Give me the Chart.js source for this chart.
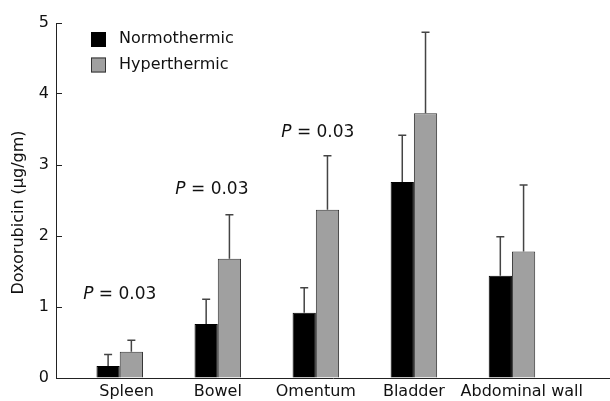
<!DOCTYPE html>
<html lang="en">
<head>
    <meta charset="UTF-8">
    <title>Doxorubicin</title>
    <script src="https://cdn.jsdelivr.net/npm/chart.js@4.4.0/dist/chart.umd.min.js"></script>
    <style>
        body { margin: 0; background: #fff; }
    </style>
</head>
<body>

<canvas id="dox-chart" width="610" height="401"></canvas>

<script>

    const organs = ['Spleen', 'Bowel', 'Omentum', 'Bladder', 'Abdominal wall'];
    const normothermic = [0.17, 0.76, 0.92, 2.76, 1.44];
    const normothermicSD = [0.16, 0.35, 0.35, 0.66, 0.55];
    const hyperthermic = [0.37, 1.68, 2.37, 3.73, 1.78];
    const hyperthermicSD = [0.16, 0.62, 0.76, 1.14, 0.94];
    const yTicks = [0, 1, 2, 3, 4, 5];
    // p-value notes: organ index and height (baseline) in axis units
    const pOrgans = [0, 1, 2];
    const pHeights = [1.11, 2.59, 3.40];
    const pValue = '0.03';

    const font = 'DejaVu Sans';
    const labelShift = [0.07, 0, 0, 0, 0.1];
    const pShift = [0, -0.06, 0.02];

    const errorBars = {
        id: 'errorBars',
        afterDatasetsDraw(chart) {
            const ctx = chart.ctx;
            const y = chart.scales.y;
            const sds = [normothermicSD, hyperthermicSD];
            ctx.save();
            ctx.strokeStyle = '#444';
            ctx.lineWidth = 1.5;
            chart.data.datasets.forEach((ds, di) => {
                chart.getDatasetMeta(di).data.forEach((bar, i) => {
                    const top = y.getPixelForValue(ds.data[i].y + sds[di][i]);
                    ctx.beginPath();
                    ctx.moveTo(bar.x, bar.y);
                    ctx.lineTo(bar.x, top);
                    ctx.moveTo(bar.x - 4, top);
                    ctx.lineTo(bar.x + 4, top);
                    ctx.stroke();
                });
            });
            ctx.restore();
        }
    };

    const extras = {
        id: 'extras',
        afterDraw(chart) {
            const ctx = chart.ctx;
            const area = chart.chartArea;
            const x = chart.scales.x, y = chart.scales.y;
            ctx.save();
            ctx.fillStyle = '#111';

            // y axis title
            ctx.save();
            ctx.translate(19, (area.top + area.bottom) / 2 + 12);
            ctx.rotate(-Math.PI / 2);
            ctx.font = '16px "' + font + '"';
            ctx.textAlign = 'center';
            ctx.textBaseline = 'middle';
            ctx.fillText('Doxorubicin (\u03bcg/gm)', 0, 0);
            ctx.restore();

            // legend
            ctx.font = '16px "' + font + '"';
            ctx.textBaseline = 'middle';
            ctx.textAlign = 'left';
            chart.data.datasets.forEach((ds, i) => {
                const bx = area.left + 35, by = area.top + 9 + i * 25.5;
                ctx.fillStyle = ds.backgroundColor;
                ctx.fillRect(bx, by, 15, 15);
                ctx.strokeStyle = ds.borderColor;
                ctx.lineWidth = 1;
                ctx.strokeRect(bx + 0.5, by + 0.5, 14, 14);
                ctx.fillStyle = '#111';
                ctx.fillText(ds.label, bx + 28, by + 7);
            });

            // P = 0.03 notes
            ctx.textBaseline = 'alphabetic';
            pOrgans.forEach((org, k) => {
                const italic = 'italic 17px "' + font + '"';
                const normal = '17px "' + font + '"';
                const rest = ' = ' + pValue;
                ctx.font = italic;
                const wP = ctx.measureText('P').width;
                ctx.font = normal;
                const wR = ctx.measureText(rest).width;
                const cx = x.getPixelForValue(org + pShift[k]);
                const by = y.getPixelForValue(pHeights[k]);
                const sx = cx - (wP + wR) / 2;
                ctx.font = italic;
                ctx.fillText('P', sx, by);
                ctx.font = normal;
                ctx.fillText(rest, sx + wP, by);
            });
            ctx.restore();
        }
    };

    const dataObj = {
        datasets: [
            {
                label: 'Normothermic',
                data: organs.map((o, i) => ({x: i, y: normothermic[i]})),
                backgroundColor: '#000000',
                borderColor: '#000000',
                borderWidth: 1,
                categoryPercentage: 0.51,
                barPercentage: 1
            },
            {
                label: 'Hyperthermic',
                data: organs.map((o, i) => ({x: i, y: hyperthermic[i]})),
                backgroundColor: '#a0a0a0',
                borderColor: '#333333',
                borderWidth: 1,
                categoryPercentage: 0.51,
                barPercentage: 1
            }
        ]
    };

    new Chart('dox-chart', {
        type: 'bar',
        data: dataObj,
        plugins: [errorBars, extras],
        options: {
            responsive: false,
            animation: false,
            layout: {padding: {left: 0, top: 23, right: 0, bottom: 0}},
            plugins: {
                legend: {display: false},
                tooltip: {enabled: false}
            },
            scales: {
                x: {
                    type: 'linear',
                    offset: false,
                    min: -0.65,
                    max: 5,
                    afterBuildTicks: s => {
                        s.ticks = organs.map((o, i) => ({value: i + labelShift[i]}));
                    },
                    afterFit: s => { s.height = 23; },
                    grid: {display: false, drawTicks: false},
                    border: {display: true, color: '#222', width: 1},
                    ticks: {
                        autoSkip: false,
                        maxRotation: 0,
                        padding: 4,
                        color: '#111',
                        font: {family: font, size: 16},
                        callback: (v, i) => organs[i]
                    }
                },
                y: {
                    min: 0,
                    max: 5,
                    afterBuildTicks: s => {
                        s.ticks = yTicks.map(v => ({value: v}));
                    },
                    afterFit: s => { s.width = 56; },
                    grid: {drawOnChartArea: false, drawTicks: true, tickLength: -6, color: '#222'},
                    border: {display: true, color: '#222', width: 1},
                    ticks: {
                        padding: 13,
                        color: '#111',
                        font: {family: font, size: 16}
                    }
                }
            }
        }
    });

</script>

</body>
</html>
